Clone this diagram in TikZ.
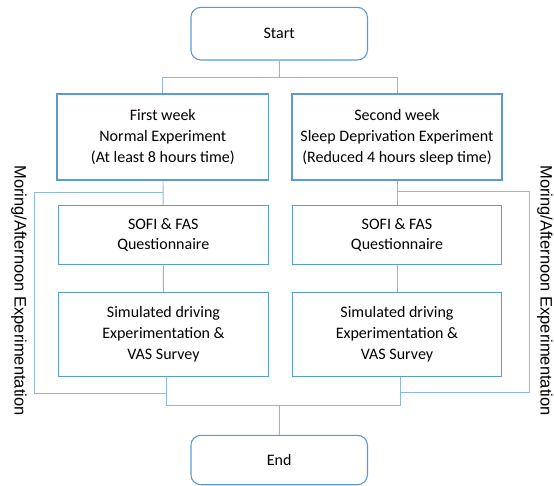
\documentclass[tikz,border=0pt]{standalone}
\usepackage{fontspec}
\setmainfont{Carlito}
\newfontfamily\sidefont{Liberation Sans}
\usetikzlibrary{positioning}
\definecolor{boxblue}{HTML}{5B9BD5}
\definecolor{lineblue}{HTML}{8DB8E2}

\begin{document}
\begin{tikzpicture}[x=1pt, y=-1pt,
    stepbox/.style={draw=boxblue, line width=1.1pt, align=center, inner sep=0pt, font=\fontsize{16}{20.8}\selectfont},
    endbox/.style={stepbox, rounded corners=10pt},
    link/.style={draw=lineblue, line width=0.9pt},
    side/.style={font=\sidefont\fontsize{16.5}{19}\selectfont, rotate=-90}]
    \useasboundingbox (0, 0) rectangle (554, 486);
    % start and end
    \node[endbox, minimum width=176.5pt, minimum height=52.7pt] (start) at (279.2, 33.7) {Start};
    \node[endbox, minimum width=176.5pt, minimum height=49.4pt] (end) at (279.2, 460) {End};
    % first week
    \node[stepbox, minimum width=211.7pt, minimum height=86pt] (wk1) at (162.8, 137) {First week\\Normal Experiment\\(At least 8 hours time)};
    \node[stepbox, minimum width=210pt, minimum height=59.4pt] (sofi1) at (163.3, 235) {SOFI \& FAS\\Questionnaire};
    \node[stepbox, minimum width=210.4pt, minimum height=84pt] (vas1) at (163.5, 334.3) {Simulated driving\\Experimentation \&\\VAS Survey};
    % second week
    \node[stepbox, minimum width=210pt, minimum height=86pt] (wk2) at (397, 137) {Second week\\Sleep Deprivation Experiment\\(Reduced 4 hours sleep time)};
    \node[stepbox, minimum width=209pt, minimum height=59.4pt] (sofi2) at (397, 235) {SOFI \& FAS\\Questionnaire};
    \node[stepbox, minimum width=209pt, minimum height=84pt] (vas2) at (397, 334.3) {Simulated driving\\Experimentation \&\\VAS Survey};
    % side labels
    \node[side] (lside) at (19, 290.5) {Moring/Afternoon Experimentation};
    \node[side] (rside) at (545, 290.5) {Moring/Afternoon Experimentation};
    % branches
    \coordinate (split) at (279.4, 77.3);
    \coordinate (merge) at (279.4, 405.7);
    \draw[link] (start) -- (split);
    \draw[link] (wk1.north) |- (split) -| (wk2.north);
    \draw[link] (wk1) -- (sofi1);
    \draw[link] (sofi1) -- (vas1);
    \draw[link] (wk2) -- (sofi2);
    \draw[link] (sofi2) -- (vas2);
    \draw[link] ([xshift=3pt]vas1.south) |- (merge) -| ([xshift=3pt]vas2.south);
    \draw[link] (merge) -- (end);
    % loops
    \coordinate (lt) at (34, 192);
    \coordinate (lb) at (34, 393.3);
    \coordinate (rt) at (529.6, 191);
    \coordinate (rb) at (529.6, 392.3);
    \draw[link] (wk1.south |- lt) -- (lt) -- (lb) -- ([xshift=3pt]vas1.south |- lb);
    \draw[link] (wk2.south |- rt) -- (rt) -- (rb) -- ([xshift=3pt]vas2.south |- rb);
\end{tikzpicture}
\end{document}
